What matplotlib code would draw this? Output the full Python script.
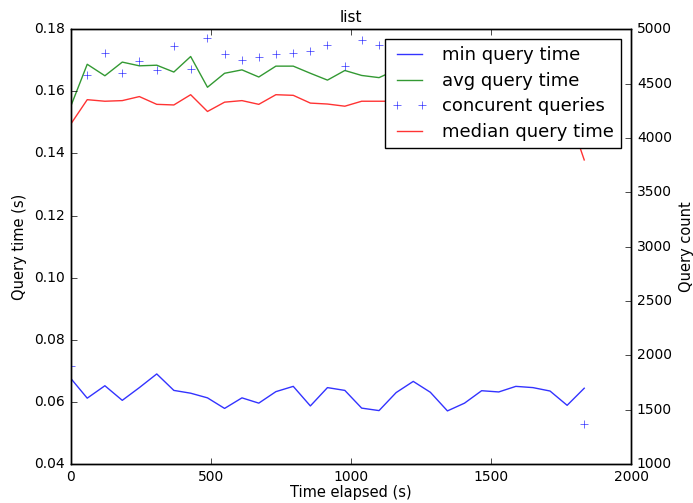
import matplotlib
matplotlib.use("Agg")
import matplotlib.pyplot as plt

plt.style.use("classic")
plt.rcParams["font.size"] = 10
plt.rcParams["figure.facecolor"] = "white"
plt.rcParams["savefig.facecolor"] = "white"

# time since start of run (s)
elapsed = [0, 59, 122, 184, 245, 307, 368, 428, 488, 549, 611, 671, 732, 794,
           855, 916, 978, 1038, 1100, 1161, 1222, 1283, 1344, 1405, 1466,
           1527, 1588, 1649, 1710, 1771, 1832]

min_time = [0.0676, 0.0612, 0.0652, 0.0605, 0.0646, 0.0690, 0.0637, 0.0628,
            0.0613, 0.0579, 0.0613, 0.0596, 0.0633, 0.0650, 0.0587, 0.0646,
            0.0637, 0.0580, 0.0572, 0.0630, 0.0666, 0.0631, 0.0571, 0.0596,
            0.0636, 0.0632, 0.0650, 0.0646, 0.0635, 0.0589, 0.0644]

avg_time = [0.1551, 0.1687, 0.1650, 0.1694, 0.1682, 0.1684, 0.1662, 0.1712,
            0.1613, 0.1658, 0.1669, 0.1646, 0.1681, 0.1681, 0.1658, 0.1636,
            0.1667, 0.1651, 0.1644, 0.1669, 0.1660, 0.1650, 0.1670, 0.1660,
            0.1680, 0.1650, 0.1660, 0.1640, 0.1660, 0.1630, 0.1500]

median_time = [0.1494, 0.1573, 0.1568, 0.1570, 0.1583, 0.1558, 0.1556, 0.1589,
               0.1535, 0.1565, 0.1570, 0.1558, 0.1589, 0.1587, 0.1562, 0.1559,
               0.1552, 0.1568, 0.1568, 0.1568, 0.1570, 0.1560, 0.1580, 0.1570,
               0.1560, 0.1570, 0.1580, 0.1560, 0.1570, 0.1540, 0.1379]

concurrent = [1905, 4580, 4782, 4595, 4711, 4623, 4849, 4638, 4923, 4773,
              4721, 4742, 4773, 4782, 4803, 4856, 4660, 4902, 4856, 4750,
              4800, 4700, 4850, 4780, 4720, 4810, 4760, 4690, 4830, 4740,
              1367]

fig, ax = plt.subplots(figsize=(6.93, 5.03), dpi=100)
fig.subplots_adjust(left=0.102, right=0.911, bottom=0.0775, top=0.942)
ax2 = ax.twinx()

l_min, = ax.plot(elapsed, min_time, color="b", alpha=0.8, label="min query time")
l_avg, = ax.plot(elapsed, avg_time, color="g", alpha=0.8, label="avg query time")
l_conc, = ax2.plot(elapsed, concurrent, "+", color="b", alpha=0.8,
                   label="concurent queries")
l_med, = ax.plot(elapsed, median_time, color="r", alpha=0.8,
                 label="median query time")

ax.set_xlim(0, 2000)
ax.set_ylim(0.04, 0.18)
ax2.set_ylim(1000, 5000)
ax.set_xticks([0, 500, 1000, 1500, 2000])

ax.set_title("list", fontsize=11)
ax.set_xlabel("Time elapsed (s)", fontsize=10.5, labelpad=1)
ax.set_ylabel("Query time (s)", fontsize=10.5)
ax2.set_ylabel("Query count", fontsize=10.5)

handles = [l_min, l_avg, l_conc, l_med]
ax2.legend(handles, [h.get_label() for h in handles], loc="upper right",
           fontsize=13, labelspacing=0.42, borderaxespad=0.55)

fig.savefig("out.png", dpi=100)
